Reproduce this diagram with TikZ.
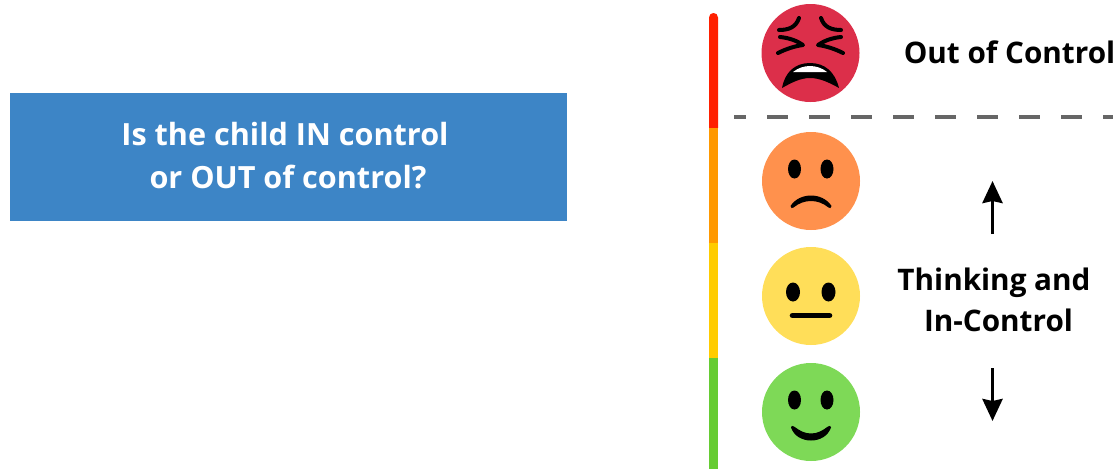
\documentclass[tikz,border=0pt]{standalone}
\usepackage{fontspec}
\setmainfont{Open Sans}
\usetikzlibrary{arrows.meta}
\definecolor{boxblue}{HTML}{3D85C6}
\definecolor{barred}{HTML}{FF2000}
\definecolor{barorange}{HTML}{FF9900}
\definecolor{baryellow}{HTML}{FFCC00}
\definecolor{bargreen}{HTML}{66CC33}
\definecolor{facered}{HTML}{DC2F4A}
\definecolor{faceorange}{HTML}{FF914D}
\definecolor{faceyellow}{HTML}{FFDE59}
\definecolor{facegreen}{HTML}{7ED957}
\definecolor{dashgrey}{HTML}{666666}
\tikzset{
  face/.style={circle,inner sep=0pt,minimum size=98pt,fill=#1},
  blacktext/.style={font=\bfseries\fontsize{29.7}{31}\selectfont,text=black,inner sep=0pt,align=center},
  bluebox/.style={fill=boxblue,inner sep=0pt,minimum width=557.5pt,minimum height=128pt},
  boxtext/.style={text=white,inner sep=0pt,align=center,font=\bfseries\fontsize{30.6}{43}\selectfont},
  eye/.style={fill=black},
  lineface/.style={draw=black,line cap=round,line width=4pt},
  updown/.style={-{Stealth[length=22pt,width=20pt,inset=2pt]},line width=3.6pt,black}
}
\begin{document}
\begin{tikzpicture}[x=1pt,y=-1pt]
\useasboundingbox (0,0) rectangle (1118,469);
% box
\node[bluebox] (q) at (288.5,157) {};
\node[boxtext] (qt) at (288,155.5) {Is the child IN control\hspace*{6pt}\\or OUT of control?};
% bar
\fill[barred] (709,128) -- (709,17.5) .. controls (709,11.5) and (718,11.5) .. (718,17.5) -- (718,128) -- cycle;
\fill[barorange] (709,128) rectangle (718,243);
\fill[baryellow] (709,243) rectangle (718,358);
\fill[bargreen] (709,358) rectangle (718,469);
% dashed divider
\coordinate (dl) at (734,117);
\coordinate (dr) at (1113,117);
\draw[dashgrey,line width=4pt,dash pattern=on 21pt off 21pt,dash phase=9pt] (dl) -- (dr);
% faces
\node[face=facered] (f1) at (810.5,53) {};
\node[face=faceorange] (f2) at (811,181) {};
\node[face=faceyellow] (f3) at (811,296) {};
\node[face=facegreen] (f4) at (811,412) {};
% red face
\draw[lineface] (799,18) .. controls (796,27) and (789,30) .. (779,30);
\draw[lineface] (821,18) .. controls (824,27) and (831,30) .. (841,30);
\draw[lineface,line join=round] (780,37) .. controls (790,38) and (797,41) .. (803,45) .. controls (795,46) and (786,49) .. (778,53);
\draw[lineface,line join=round] (841,37) .. controls (831,38) and (824,41) .. (818,45) .. controls (826,46) and (835,49) .. (843,53);
\fill[black] (782,88) .. controls (785,72) and (795,63) .. (810,63) .. controls (825,63) and (835,72) .. (839,88)
   .. controls (830,83) and (820,78) .. (810,78) .. controls (800,78) and (791,83) .. (782,88) -- cycle;
\fill[white] (793,72) .. controls (798,68) and (804,66) .. (810,66) .. controls (816,66) and (822,68) .. (827,72)
   .. controls (821,72) and (816,72) .. (810,72) .. controls (804,72) and (799,72) .. (793,72) -- cycle;
% orange face
\fill[eye] (794.5,169) ellipse[x radius=6.5,y radius=9.5];
\fill[eye] (827,169) ellipse[x radius=6.5,y radius=9.5];
\fill[black] (790.5,206) .. controls (795,199) and (803,195.5) .. (811,195.5) .. controls (819,195.5) and (827,199) .. (831.5,206)
   .. controls (831.5,208.5) and (829.5,208.5) .. (828.5,207.5) .. controls (823,203) and (817,201) .. (811,201)
   .. controls (805,201) and (799,203) .. (793.5,207.5) .. controls (792.5,208.5) and (790.5,208.5) .. (790.5,206) -- cycle;
% yellow face
\fill[eye] (793,292) ellipse[x radius=7,y radius=9.5];
\fill[eye] (828.5,292) ellipse[x radius=7,y radius=9.5];
\draw[lineface,line width=5.6pt] (792.5,315.5) -- (829.5,315.5);
% green face
\fill[eye] (794.5,400) ellipse[x radius=6.5,y radius=9.5];
\fill[eye] (827,400) ellipse[x radius=6.5,y radius=9.5];
\fill[black] (791,427.5) .. controls (791,425.5) and (792.5,425.5) .. (794,426.5) .. controls (800,431) and (805,433.5) .. (811,433.5)
   .. controls (817,433.5) and (822,431) .. (828,426.5) .. controls (829.5,425.5) and (831,425.5) .. (831,427.5)
   .. controls (828,436) and (820,440.5) .. (811,440.5) .. controls (802,440.5) and (794,436) .. (791,427.5) -- cycle;
% labels
\node[blacktext] (ooc) at (1009.5,52) {Out of Control};
\node[blacktext] (tc) at (994,300) {Thinking and\\[10pt]\hspace*{9pt}In-Control};
% arrows
\coordinate (aus) at (992.5,234);
\coordinate (aue) at (992.5,181);
\coordinate (ads) at (992.5,368);
\coordinate (ade) at (992.5,421);
\draw[updown] (aus) -- (aue);
\draw[updown] (ads) -- (ade);
\end{tikzpicture}
\end{document}
